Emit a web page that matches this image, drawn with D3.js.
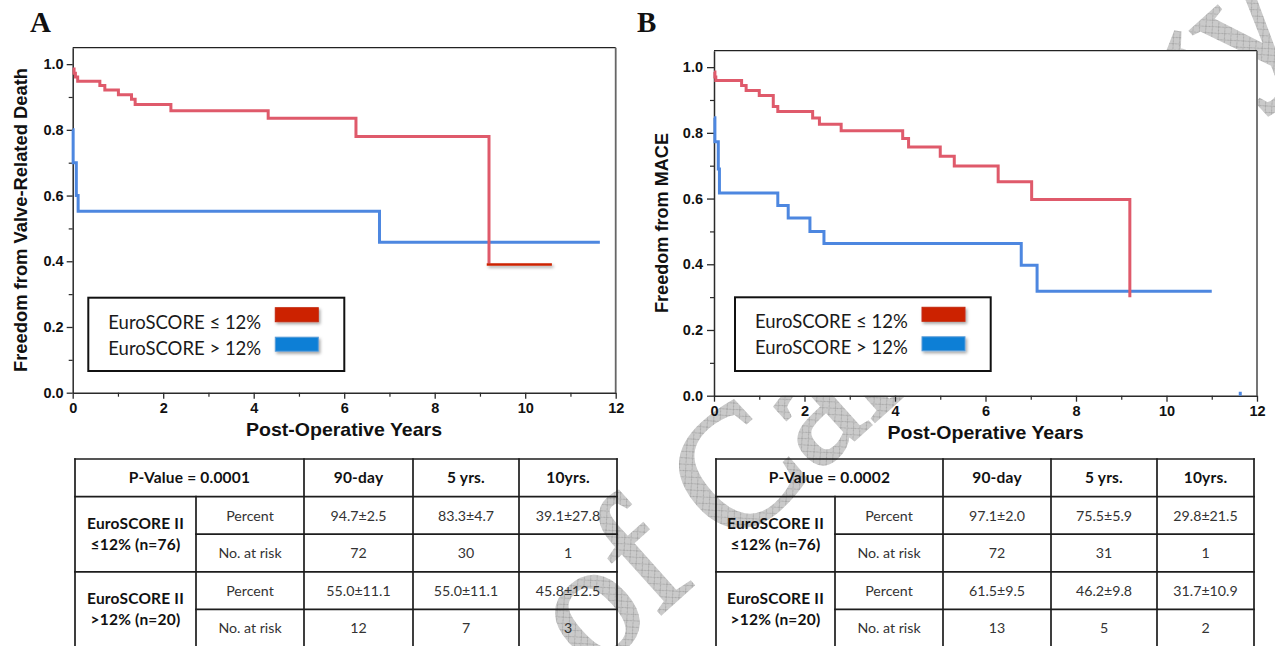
<!DOCTYPE html>
<html>
<head>
<meta charset="utf-8">
<script src="https://cdn.jsdelivr.net/npm/d3@7"></script>
<style>
body { margin: 0; background: #fff; }
svg { display: block; }
</style>
</head>
<body>
<svg id="canvas" width="1275" height="646"></svg>
<script>
// ---- panel A: freedom from valve-related death ----
let aLowTime = [0, 0.03, 0.06, 0.11, 0.6, 0.71, 1.01, 1.3, 1.38, 2.17, 4.32, 6.26, 9.2]
let aLowSurv = [0.985, 0.972, 0.961, 0.948, 0.935, 0.921, 0.907, 0.893, 0.877, 0.858, 0.835, 0.78, 0.393]
let aLowExtTime = [9.15, 10.59]
let aLowExtSurv = [0.39, 0.39]
let aHighTime = [0, 0.01, 0.08, 0.12, 6.78, 11.65]
let aHighSurv = [0.8, 0.7, 0.6, 0.552, 0.458, 0.458]

// ---- panel B: freedom from MACE ----
let bLowTime = [0, 0.02, 0.04, 0.61, 0.71, 1.0, 1.31, 1.41, 2.18, 2.33, 2.81, 4.17, 4.3, 5.0, 5.31, 6.28, 7.02, 9.19]
let bLowSurv = [0.985, 0.97, 0.959, 0.944, 0.929, 0.914, 0.88, 0.865, 0.845, 0.826, 0.806, 0.783, 0.757, 0.729, 0.699, 0.651, 0.597, 0.3]
let bHighTime = [0, 0.02, 0.095, 0.12, 1.41, 1.64, 2.12, 2.43, 6.79, 7.14, 11.0]
let bHighSurv = [0.846, 0.773, 0.69, 0.617, 0.579, 0.541, 0.5, 0.463, 0.397, 0.318, 0.318]
let bTickTime = [11.63, 11.63]
let bTickSurv = [0, 0.012]

let xTicks = [0, 2, 4, 6, 8, 10, 12]
let xMinor = [1, 3, 5, 7, 9, 11]
let yTicks = [0, 0.2, 0.4, 0.6, 0.8, 1.0]
let yMinor = [0.1, 0.3, 0.5, 0.7, 0.9]

let legendLabels = ['EuroSCORE \u2264 12%', 'EuroSCORE > 12%']

// ---- tables ----
let tableHeads = ['90-day', '5 yrs.', '10yrs.']
let rowNames = ['Percent', 'No. at risk']
let groupTop = ['EuroSCORE II', 'EuroSCORE II']
let groupBottom = ['\u226412% (n=76)', '>12% (n=20)']
let aPValue = 'P-Value = 0.0001'
let aLowPercent = ['94.7\u00b12.5', '83.3\u00b14.7', '39.1\u00b127.8']
let aLowRisk = ['72', '30', '1']
let aHighPercent = ['55.0\u00b111.1', '55.0\u00b111.1', '45.8\u00b112.5']
let aHighRisk = ['12', '7', '3']
let bPValue = 'P-Value = 0.0002'
let bLowPercent = ['97.1\u00b12.0', '75.5\u00b15.9', '29.8\u00b121.5']
let bLowRisk = ['72', '31', '1']
let bHighPercent = ['61.5\u00b19.5', '46.2\u00b19.8', '31.7\u00b110.9']
let bHighRisk = ['13', '5', '2']

let redLine = '#df5a6b'
let blueLine = '#4d87e0'

let svg = d3.select('#canvas')
let defs = svg.append('defs')

let hatch = defs.append('pattern')
    .attr('id', 'hatch')
    .attr('patternUnits', 'userSpaceOnUse')
    .attr('width', 9).attr('height', 9)
hatch.append('rect').attr('width', 9).attr('height', 9).attr('fill', '#cacaca')
hatch.append('path').attr('d', 'M0,0L9,9M9,0L0,9').attr('stroke', '#9c9c9c').attr('stroke-width', 0.7)

let shadow = defs.append('filter').attr('id', 'shadow')
    .attr('filterUnits', 'userSpaceOnUse')
    .attr('x', 0).attr('y', 0).attr('width', 1275).attr('height', 646)
shadow.append('feDropShadow')
    .attr('dx', 1.5).attr('dy', 2).attr('stdDeviation', 1.6)
    .attr('flood-color', '#000').attr('flood-opacity', 0.35)

// watermark, sits behind the tables and the plot areas
svg.append('text')
    .attr('transform', 'translate(592,676) rotate(-42)')
    .attr('font-family', 'Liberation Serif, serif')
    .attr('font-size', 172)
    .attr('fill', 'url(#hatch)')
    .attr('stroke', 'url(#hatch)')
    .attr('stroke-width', 3)
    .text('of Cardiology')

let drawTable = (edges, pValue, groups) => {
    let g = svg.append('g')
    let top = 459
    let rowH = 37.6
    let rows = d3.range(6).map((i) => top + i * rowH)
    let left = edges[0]
    let right = edges[edges.length - 1]
    let lines = []
    lines.push([left, rows[0], right, rows[0]])
    lines.push([left, rows[1], right, rows[1]])
    lines.push([edges[1], rows[2], right, rows[2]])
    lines.push([left, rows[3], right, rows[3]])
    lines.push([edges[1], rows[4], right, rows[4]])
    lines.push([left, rows[5], right, rows[5]])
    edges.forEach((x, i) => {
        lines.push([x, i === 1 ? rows[1] : rows[0], x, rows[5]])
    })
    g.selectAll('line')
        .data(lines)
        .enter()
        .append('line')
        .attr('x1', (d) => d[0]).attr('y1', (d) => d[1])
        .attr('x2', (d) => d[2]).attr('y2', (d) => d[3])
        .attr('stroke', '#1d1d1d')
        .attr('stroke-width', 1.7)
        .attr('stroke-linecap', 'square')

    let txt = (x, y, s, bold) => {
        g.append('text')
            .attr('x', x).attr('y', y)
            .attr('text-anchor', 'middle')
            .attr('dy', '0.36em')
            .attr('font-family', 'Lato, sans-serif')
            .attr('font-size', bold ? 15.5 : 14.2)
            .attr('font-weight', bold ? 700 : 400)
            .attr('letter-spacing', bold ? 0.2 : 0)
            .attr('fill', bold ? '#111' : '#333')
            .text(s)
    }
    let mid = (i) => (edges[i] + edges[i + 1]) / 2
    txt((edges[0] + edges[2]) / 2, rows[0] + rowH / 2, pValue, true)
    tableHeads.forEach((h, i) => txt(mid(i + 2), rows[0] + rowH / 2, h, true))
    groups.forEach((grp, gi) => {
        let r0 = rows[1 + gi * 2]
        txt(mid(0), r0 + rowH - 11, groupTop[gi], true)
        txt(mid(0), r0 + rowH + 10, groupBottom[gi], true)
        grp.forEach((vals, ri) => {
            let cy = r0 + rowH * ri + rowH / 2
            txt(mid(1), cy, rowNames[ri], false)
            vals.forEach((v, ci) => txt(mid(ci + 2), cy, v, false))
        })
    })
}

drawTable([75, 196, 304, 413, 519, 617], aPValue, [[aLowPercent, aLowRisk], [aHighPercent, aHighRisk]])
drawTable([716, 835, 943, 1051, 1157, 1254], bPValue, [[bLowPercent, bLowRisk], [bHighPercent, bHighRisk]])

let drawPlot = (p) => {
    let g = svg.append('g')
    let x = d3.scaleLinear().domain([0, 12]).range([p.left, p.right])
    let y = d3.scaleLinear().domain([0, 1.05]).range([p.bottom, p.top])

    g.append('rect')
        .attr('x', p.left).attr('y', p.top)
        .attr('width', p.right - p.left).attr('height', p.bottom - p.top)
        .attr('fill', '#fff')

    // frame: top black, right grey
    g.append('line')
        .attr('x1', p.left).attr('x2', p.right).attr('y1', p.top).attr('y2', p.top)
        .attr('stroke', '#222').attr('stroke-width', 1.3)
    g.append('line')
        .attr('x1', p.right).attr('x2', p.right).attr('y1', p.top).attr('y2', p.bottom)
        .attr('stroke', '#666').attr('stroke-width', 1.8)

    let styleAxis = (ax) => {
        ax.select('.domain').attr('stroke', '#2a2a2a').attr('stroke-width', 1.5)
        ax.selectAll('.tick line').attr('stroke', '#2a2a2a').attr('stroke-width', 1.3)
        ax.selectAll('text')
            .attr('font-family', 'Liberation Sans, Arial, sans-serif')
            .attr('font-weight', 'bold')
            .attr('font-size', 14.5)
            .attr('fill', '#111')
    }

    let xMinorAxis = g.append('g').attr('transform', 'translate(0,' + p.bottom + ')')
        .call(d3.axisBottom(x).tickValues(xMinor).tickSize(4).tickFormat(''))
    xMinorAxis.select('.domain').remove()
    xMinorAxis.selectAll('.tick line').attr('stroke', '#2a2a2a').attr('stroke-width', 1.2)
    let yMinorAxis = g.append('g').attr('transform', 'translate(' + p.left + ',0)')
        .call(d3.axisLeft(y).tickValues(yMinor).tickSize(4).tickFormat(''))
    yMinorAxis.select('.domain').remove()
    yMinorAxis.selectAll('.tick line').attr('stroke', '#2a2a2a').attr('stroke-width', 1.2)

    let xAxis = g.append('g').attr('transform', 'translate(0,' + p.bottom + ')')
        .call(d3.axisBottom(x).tickValues(xTicks).tickSize(6).tickSizeOuter(0).tickPadding(4).tickFormat(d3.format('d')))
    styleAxis(xAxis)
    let yAxis = g.append('g').attr('transform', 'translate(' + p.left + ',0)')
        .call(d3.axisLeft(y).tickValues(yTicks).tickSize(p.yTickLen).tickSizeOuter(0).tickPadding(p.yPad).tickFormat(d3.format('.1f')))
    styleAxis(yAxis)

    let line = d3.line()
        .x((d) => x(d[0]))
        .y((d) => y(d[1]))
        .curve(d3.curveStepAfter)

    p.series.forEach((s) => {
        let pts = s.time.map((t, i) => [t, s.surv[i]])
        g.append('path')
            .attr('d', line(pts))
            .attr('fill', 'none')
            .attr('stroke', s.color)
            .attr('stroke-width', s.width || 3)
            .attr('filter', s.shadow ? 'url(#shadow)' : null)
    })

    // axis titles
    g.append('text')
        .attr('x', p.xLabelX).attr('y', p.xLabelY)
        .attr('text-anchor', 'middle')
        .attr('font-family', 'Liberation Sans, Arial, sans-serif')
        .attr('font-weight', 'bold')
        .attr('font-size', 19)
        .attr('textLength', 196)
        .attr('lengthAdjust', 'spacingAndGlyphs')
        .attr('fill', '#111')
        .text('Post-Operative Years')
    g.append('text')
        .attr('transform', 'translate(' + p.yLabelX + ',' + p.yLabelY + ') rotate(-90)')
        .attr('text-anchor', 'middle')
        .attr('font-family', 'Liberation Sans, Arial, sans-serif')
        .attr('font-weight', 'bold')
        .attr('font-size', 18.5)
        .attr('textLength', p.yLabelLen)
        .attr('lengthAdjust', 'spacingAndGlyphs')
        .attr('fill', '#111')
        .text(p.yTitle)

    // legend
    let lg = g.append('g')
    lg.append('rect')
        .attr('x', p.leg[0]).attr('y', p.leg[1])
        .attr('width', p.leg[2]).attr('height', p.leg[3])
        .attr('fill', '#fff').attr('stroke', '#111').attr('stroke-width', 2)
    let swatchFill = ['#cc2200', '#0b7fd6']
    let swatchLine = ['#c42a10', '#5a9cd8']
    legendLabels.forEach((lab, i) => {
        lg.append('text')
            .attr('x', p.leg[0] + 20)
            .attr('y', p.leg[1] + 31 + i * 26)
            .attr('font-family', 'Lato, sans-serif')
            .attr('font-size', 18.5)
            .attr('fill', '#1a1a1a')
            .text(lab)
        lg.append('rect')
            .attr('x', p.leg[0] + p.swatchX)
            .attr('y', p.leg[1] + 10 + i * 29.5)
            .attr('width', 43).attr('height', 14)
            .attr('fill', swatchFill[i])
            .attr('stroke', swatchLine[i]).attr('stroke-width', 1)
            .attr('filter', 'url(#shadow)')
    })

    svg.append('text')
        .attr('x', p.letterX).attr('y', 32)
        .attr('font-family', 'Liberation Serif, Times New Roman, serif')
        .attr('font-weight', 'bold')
        .attr('font-size', 29)
        .attr('fill', '#111')
        .text(p.letter)
}

drawPlot({
    letter: 'A', letterX: 30,
    left: 72.7, right: 615.7, top: 47.7, bottom: 392.7,
    yTickLen: 6, yPad: 3,
    xLabelX: 344, xLabelY: 436,
    yLabelX: 27, yLabelY: 220, yLabelLen: 304,
    yTitle: 'Freedom from Valve-Related Death',
    leg: [88.3, 297.7, 256, 73.3], swatchX: 187,
    series: [
        { time: aHighTime, surv: aHighSurv, color: blueLine },
        { time: aLowTime, surv: aLowSurv, color: redLine },
        { time: aLowExtTime, surv: aLowExtSurv, color: '#cc2200', width: 2.6, shadow: true }
    ]
})

drawPlot({
    letter: 'B', letterX: 637,
    left: 714, right: 1257, top: 50.7, bottom: 395.7,
    yTickLen: 7, yPad: 4,
    xLabelX: 985.5, xLabelY: 439,
    yLabelX: 668, yLabelY: 223, yLabelLen: 180,
    yTitle: 'Freedom from MACE',
    leg: [735, 297.3, 255.7, 73.7], swatchX: 187,
    series: [
        { time: bHighTime, surv: bHighSurv, color: blueLine },
        { time: bTickTime, surv: bTickSurv, color: blueLine },
        { time: bLowTime, surv: bLowSurv, color: redLine }
    ]
})
</script>
</body>
</html>
